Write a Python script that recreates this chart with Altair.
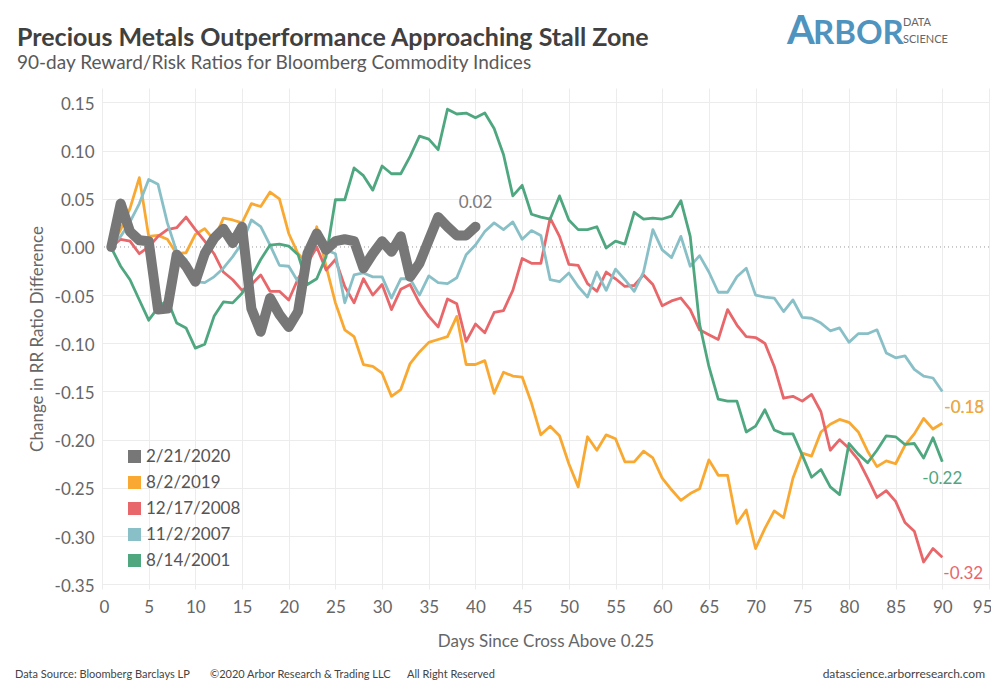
import altair as alt
import pandas as pd

# ---------------- data ----------------
names = ["2/21/2020", "8/2/2019", "12/17/2008", "11/2/2007", "8/14/2001"]
colors = ["#777777", "#F9A932", "#E8676B", "#89C0C7", "#4FA780"]

days_2020 = list(range(1, 41))
days_all = list(range(1, 91))

s2020 = [0.000, 0.045, 0.016, 0.007, 0.006, -0.065, -0.064, -0.008, -0.020, -0.036,
         -0.007, 0.009, 0.019, 0.004, 0.021, -0.064, -0.088, -0.053, -0.070, -0.083,
         -0.067, -0.007, 0.014, -0.003, 0.006, 0.008, 0.006, -0.022, -0.007, 0.006,
         -0.005, 0.011, -0.031, -0.017, 0.007, 0.031, 0.021, 0.012, 0.012, 0.021]

s2019 = [0.000, 0.018, 0.040, 0.072, 0.011, 0.012, 0.008, -0.007, -0.006, 0.013,
         0.019, 0.007, 0.030, 0.028, 0.025, 0.045, 0.042, 0.057, 0.050, 0.014,
         -0.007, -0.017, 0.021, -0.020, -0.058, -0.086, -0.093, -0.122, -0.124, -0.131,
         -0.155, -0.148, -0.121, -0.109, -0.099, -0.096, -0.093, -0.072, -0.122, -0.122,
         -0.118, -0.152, -0.130, -0.134, -0.135, -0.162, -0.195, -0.186, -0.196, -0.225,
         -0.249, -0.197, -0.211, -0.195, -0.199, -0.223, -0.223, -0.212, -0.219, -0.240,
         -0.252, -0.263, -0.256, -0.251, -0.221, -0.237, -0.237, -0.287, -0.273, -0.313,
         -0.292, -0.274, -0.281, -0.240, -0.214, -0.217, -0.192, -0.184, -0.179, -0.182,
         -0.192, -0.212, -0.228, -0.222, -0.225, -0.206, -0.194, -0.178, -0.189, -0.183]

s2008 = [0.000, 0.008, 0.006, -0.007, 0.000, 0.011, 0.018, 0.020, 0.031, 0.018,
         0.006, -0.007, -0.026, -0.034, -0.045, -0.039, -0.029, -0.046, -0.046, -0.055,
         -0.033, -0.017, 0.000, -0.024, -0.013, -0.041, -0.058, -0.033, -0.050, -0.039,
         -0.065, -0.044, -0.039, -0.058, -0.072, -0.083, -0.054, -0.059, -0.098, -0.080,
         -0.089, -0.068, -0.066, -0.045, -0.012, -0.017, -0.017, 0.030, 0.011, -0.018,
         -0.019, -0.038, -0.046, -0.026, -0.033, -0.041, -0.040, -0.029, -0.039, -0.061,
         -0.056, -0.053, -0.065, -0.086, -0.091, -0.096, -0.065, -0.081, -0.093, -0.094,
         -0.100, -0.124, -0.157, -0.155, -0.160, -0.153, -0.171, -0.211, -0.200, -0.209,
         -0.221, -0.240, -0.260, -0.253, -0.264, -0.286, -0.295, -0.327, -0.313, -0.322]

s2007 = [0.002, 0.011, 0.026, 0.045, 0.070, 0.065, 0.025, -0.005, -0.013, -0.036,
         -0.037, -0.031, -0.022, -0.010, 0.004, 0.028, 0.021, 0.002, -0.019, -0.020,
         -0.036, -0.015, 0.005, -0.003, -0.007, -0.058, -0.029, -0.027, -0.031, -0.031,
         -0.053, -0.033, -0.033, -0.050, -0.030, -0.037, -0.038, -0.032, -0.008, 0.002,
         0.016, 0.025, 0.018, 0.026, 0.008, 0.017, 0.012, -0.034, -0.036, -0.027,
         -0.041, -0.052, -0.026, -0.045, -0.023, -0.034, -0.046, -0.026, 0.018, -0.003,
         -0.011, 0.011, -0.020, -0.009, -0.026, -0.047, -0.047, -0.031, -0.022, -0.050,
         -0.052, -0.053, -0.067, -0.055, -0.073, -0.074, -0.079, -0.087, -0.084, -0.099,
         -0.090, -0.090, -0.086, -0.110, -0.115, -0.113, -0.127, -0.134, -0.136, -0.150]

s2001 = [-0.001, -0.020, -0.034, -0.055, -0.076, -0.063, -0.055, -0.079, -0.084, -0.105,
         -0.101, -0.072, -0.057, -0.058, -0.048, -0.031, -0.013, 0.002, 0.003, 0.001,
         -0.008, -0.039, -0.033, -0.010, 0.049, 0.049, 0.082, 0.074, 0.059, 0.084,
         0.076, 0.076, 0.094, 0.115, 0.112, 0.101, 0.143, 0.138, 0.139, 0.134,
         0.139, 0.123, 0.096, 0.053, 0.064, 0.034, 0.031, 0.029, 0.053, 0.028,
         0.018, 0.018, 0.021, -0.001, 0.006, 0.003, 0.036, 0.029, 0.030, 0.029,
         0.032, 0.048, 0.011, -0.080, -0.124, -0.158, -0.160, -0.160, -0.192, -0.186,
         -0.169, -0.190, -0.194, -0.194, -0.216, -0.239, -0.231, -0.249, -0.257, -0.204,
         -0.215, -0.224, -0.211, -0.196, -0.197, -0.205, -0.204, -0.219, -0.198, -0.223]

y_ticks = [-0.35, -0.30, -0.25, -0.20, -0.15, -0.10, -0.05, 0.00, 0.05, 0.10, 0.15]
x_ticks = list(range(0, 96, 5))

TITLE = "Precious Metals Outperformance Approaching Stall Zone"
SUBTITLE = "90-day Reward/Risk Ratios for Bloomberg Commodity Indices"
X_TITLE = "Days Since Cross Above 0.25"
Y_TITLE = "Change in RR Ratio Difference"
FOOT1 = "Data Source: Bloomberg Barclays LP"
FOOT2 = "\u00a92020 Arbor Research & Trading LLC"
FOOT3 = "All Right Reserved"
FOOT4 = "datascience.arborresearch.com"

# ---------------- tables ----------------
others = [("8/2/2019", s2019), ("12/17/2008", s2008), ("11/2/2007", s2007), ("8/14/2001", s2001)]
df_c = pd.concat([pd.DataFrame({"day": days_all, "v": vals, "series": n}) for n, vals in others],
                 ignore_index=True)
df_g = pd.DataFrame({"day": days_2020, "v": s2020, "series": "2/21/2020"})

FONT = "Lato"
LBL = "#666666"

xscale = alt.Scale(domain=[0, 95], nice=False, zero=False)
yscale = alt.Scale(domain=[-0.355, 0.165], nice=False, zero=False)

X = alt.X("day:Q", scale=xscale,
          axis=alt.Axis(values=x_ticks, labelFontSize=17, labelColor=LBL, labelPadding=10,
                        labelFlush=True, labelFlushOffset=3,
                        grid=True, gridColor="#ececec", domain=False, ticks=False,
                        title=X_TITLE, titleFontSize=17, titleColor=LBL,
                        titleFontWeight="normal", titlePadding=18))
Y = alt.Y("v:Q", scale=yscale,
          axis=alt.Axis(values=y_ticks,
                        labelExpr="(datum.value < 0 ? '-' : '') + format(abs(datum.value), '.2f')",
                        labelFontSize=17, labelColor=LBL, labelPadding=8, labelOffset=2,
                        grid=True,
                        gridColor={"condition": {"test": "abs(datum.value) < 0.0001",
                                                 "value": "rgba(0,0,0,0)"},
                                   "value": "#ececec"},
                        domain=False, ticks=False,
                        title=Y_TITLE, titleFontSize=17, titleColor=LBL,
                        titleFontWeight="normal", titlePadding=8))

legend = alt.Legend(title=None, orient="none", legendX=24, legendY=360,
                    symbolType="square", symbolSize=36, symbolStrokeWidth=7,
                    labelFontSize=17, labelColor="#555555", labelOffset=3,
                    rowPadding=-9, padding=0)
C = alt.Color("series:N", scale=alt.Scale(domain=names, range=colors), legend=legend)

zero_rule = alt.Chart(pd.DataFrame({"v": [0.0]})).mark_rule(
    color="#9a9a9a", strokeDash=[1, 3], strokeWidth=1).encode(y=alt.Y("v:Q", scale=yscale))

lines = alt.Chart(df_c).mark_line(strokeWidth=2.8, strokeJoin="round").encode(x=X, y=Y, color=C)
gray = alt.Chart(df_g).mark_line(strokeWidth=10, strokeJoin="round", strokeCap="round").encode(
    x=X, y=Y, color=C)


def end_label(d, vals, color, dx, dy, align):
    df = pd.DataFrame({"day": [d], "v": [vals[-1]], "t": [f"{vals[-1]:.2f}"]})
    return alt.Chart(df).mark_text(color=color, fontSize=17, dx=dx, dy=dy, align=align,
                                   baseline="middle").encode(x=X, y=Y, text="t:N")


lab_g = end_label(40, s2020, "#7a7a7a", 0, -24, "center")
lab_t = end_label(90, s2007, colors[3], 2, 17, "left")
lab_o = end_label(90, s2019, colors[1], 2, -15, "left")
lab_gr = end_label(90, s2001, colors[4], 0, 17, "center")
lab_r = end_label(90, s2008, colors[2], 1, 17, "left")


def txt(t, x, y, size, color, weight="normal", align="left", font=FONT):
    return alt.Chart(pd.DataFrame({"t": [t]})).mark_text(
        align=align, baseline="alphabetic", fontSize=size, color=color,
        fontWeight=weight, font=font).encode(text="t:N", x=alt.value(x), y=alt.value(y))


title = txt(TITLE, -85, -42, 25, "#404040", weight="bold")
subtitle = txt(SUBTITLE, -85, -19, 19, "#595959")
logo_a = txt("A", 685, -44, 40, "#4F93BF", weight="bold")
logo_r = txt("RBOR", 711, -44, 33, "#4F93BF", weight="bold")
logo_d = txt("DATA", 801, -62, 11, "#666666")
logo_s = txt("SCIENCE", 801, -45, 11, "#666666")
f1 = txt(FOOT1, -87, 590, 11, "#444444")
f2 = txt(FOOT2, 108, 590, 11, "#444444")
f3 = txt(FOOT3, 305, 590, 11, "#444444")
f4 = txt(FOOT4, 883, 590, 12, "#444444", align="right")

chart = alt.layer(
    zero_rule, lines, gray, lab_g, lab_t, lab_o, lab_gr, lab_r,
    title, subtitle, logo_a, logo_r, logo_d, logo_s, f1, f2, f3, f4
).properties(
    width=887, height=501,
    autosize=alt.AutoSizeParams(type="none"),
    padding={"left": 94, "top": 80, "right": 2, "bottom": 105},
).configure(font=FONT).configure_view(stroke=None)

chart.save("out.html", embed_options={"renderer": "svg", "actions": False})
